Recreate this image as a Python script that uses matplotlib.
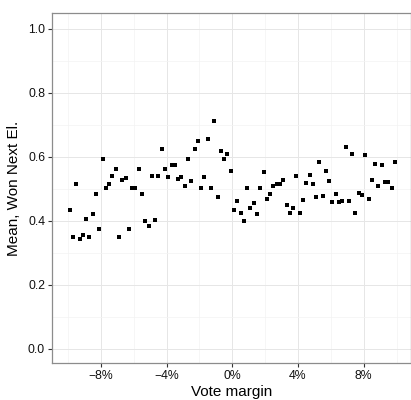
import matplotlib
matplotlib.use("Agg")
import matplotlib.pyplot as plt
from matplotlib.ticker import FixedLocator, FuncFormatter

plt.rcParams["font.family"] = ["Liberation Sans", "DejaVu Sans"]

# Bin centres of the vote margin (percent)
margin = [
    -9.9, -9.7, -9.5, -9.3, -9.1, -8.9, -8.7, -8.5, -8.3, -8.1,
    -7.9, -7.7, -7.5, -7.3, -7.1, -6.9, -6.7, -6.5, -6.3, -6.1,
    -5.9, -5.7, -5.5, -5.3, -5.1, -4.9, -4.7, -4.5, -4.3, -4.1,
    -3.9, -3.7, -3.5, -3.3, -3.1, -2.9, -2.7, -2.5, -2.3, -2.1,
    -1.9, -1.7, -1.5, -1.3, -1.1, -0.9, -0.7, -0.5, -0.3, -0.1,
    0.1, 0.3, 0.5, 0.7, 0.9, 1.1, 1.3, 1.5, 1.7, 1.9,
    2.1, 2.3, 2.5, 2.7, 2.9, 3.1, 3.3, 3.5, 3.7, 3.9,
    4.1, 4.3, 4.5, 4.7, 4.9, 5.1, 5.3, 5.5, 5.7, 5.9,
    6.1, 6.3, 6.5, 6.7, 6.9, 7.1, 7.3, 7.5, 7.7, 7.9,
    8.1, 8.3, 8.5, 8.7, 8.9, 9.1, 9.3, 9.5, 9.7, 9.9,
]

# Mean share that won the next election, per bin
won_next = [
    0.435, 0.350, 0.515, 0.344, 0.355, 0.407, 0.348, 0.420, 0.484, 0.373,
    0.594, 0.502, 0.514, 0.540, 0.561, 0.348, 0.527, 0.535, 0.375, 0.502,
    0.502, 0.563, 0.484, 0.399, 0.383, 0.540, 0.403, 0.541, 0.625, 0.563,
    0.538, 0.576, 0.576, 0.531, 0.538, 0.509, 0.594, 0.526, 0.625, 0.650,
    0.502, 0.538, 0.655, 0.502, 0.712, 0.476, 0.617, 0.594, 0.610, 0.557,
    0.434, 0.461, 0.426, 0.400, 0.502, 0.441, 0.457, 0.420, 0.502, 0.553,
    0.467, 0.483, 0.509, 0.516, 0.515, 0.527, 0.451, 0.426, 0.441, 0.540,
    0.424, 0.465, 0.519, 0.544, 0.516, 0.474, 0.583, 0.478, 0.555, 0.525,
    0.460, 0.483, 0.459, 0.463, 0.631, 0.463, 0.609, 0.424, 0.487, 0.481,
    0.605, 0.468, 0.527, 0.577, 0.510, 0.574, 0.522, 0.521, 0.503, 0.585,
]

x_major = [-8, -4, 0, 4, 8]
x_minor = [-10, -6, -2, 2, 6, 10]
y_major = [0.0, 0.2, 0.4, 0.6, 0.8, 1.0]
y_minor = [0.1, 0.3, 0.5, 0.7, 0.9]

fig = plt.figure(figsize=(4.11, 4.0), dpi=100)
ax = fig.add_axes([0.1265, 0.0913, 0.8723, 0.8762])

ax.plot(margin, won_next, linestyle="none", marker="s", markersize=3,
        markeredgewidth=0, color="black", zorder=3)

ax.set_xlim(-10.98, 10.85)
ax.set_ylim(-0.046, 1.05)

ax.xaxis.set_major_locator(FixedLocator(x_major))
ax.xaxis.set_minor_locator(FixedLocator(x_minor))
ax.yaxis.set_major_locator(FixedLocator(y_major))
ax.yaxis.set_minor_locator(FixedLocator(y_minor))
ax.xaxis.set_major_formatter(FuncFormatter(
    lambda v, p: f"{int(v)}%".replace("-", "\u2212")))
ax.yaxis.set_major_formatter(FuncFormatter(lambda v, p: f"{v:.1f}"))

ax.grid(which="major", color="#e6e6e6", linewidth=0.7, zorder=0)
ax.grid(which="minor", color="#f3f3f3", linewidth=0.5, zorder=0)
ax.set_axisbelow(True)

for s in ax.spines.values():
    s.set_color("#8c8c8c")
    s.set_linewidth(0.9)

ax.tick_params(which="major", length=3, width=0.8, color="#333333",
               labelsize=8.8, labelcolor="#111111", pad=2)
ax.tick_params(which="minor", length=0)

ax.set_xlabel("Vote margin", fontsize=11, labelpad=2)
ax.set_ylabel("Mean, Won Next El.", fontsize=11, labelpad=5)

fig.savefig("out.png", dpi=100)
